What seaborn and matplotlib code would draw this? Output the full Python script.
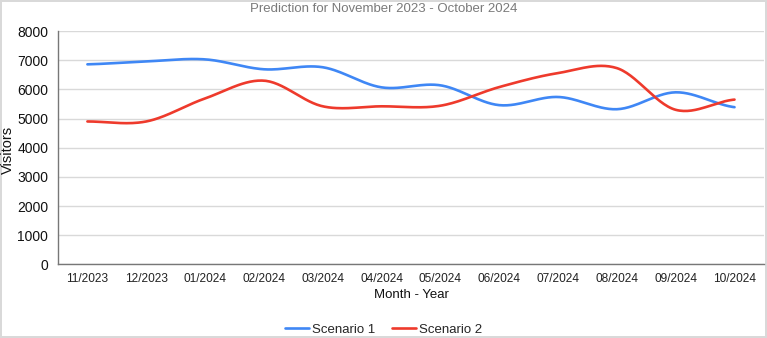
import numpy as np
import pandas as pd
import matplotlib
matplotlib.use("Agg")
import matplotlib.pyplot as plt
import seaborn as sns

months = ["11/2023", "12/2023", "01/2024", "02/2024", "03/2024", "04/2024",
          "05/2024", "06/2024", "07/2024", "08/2024", "09/2024", "10/2024"]
scenario_1 = [6860, 6960, 7030, 6690, 6760, 6070, 6140, 5460, 5740, 5320, 5900, 5390]
scenario_2 = [4900, 4900, 5690, 6300, 5420, 5420, 5440, 6080, 6560, 6730, 5300, 5650]

BLUE = "#3f87f5"
RED = "#ee3a2c"


def smooth(vals, steps=30):
    # catmull-rom through the points, like a spreadsheet "smoothed line"
    p = np.asarray(vals, dtype=float)
    n = len(p)
    xs, ys = [], []
    for i in range(n - 1):
        p0 = p[i - 1] if i > 0 else p[i]
        p1, p2 = p[i], p[i + 1]
        p3 = p[i + 2] if i + 2 < n else p[i + 1]
        t = np.linspace(0, 1, steps, endpoint=False)
        y = 0.5 * ((2 * p1) + (-p0 + p2) * t + (2 * p0 - 5 * p1 + 4 * p2 - p3) * t ** 2
                   + (-p0 + 3 * p1 - 3 * p2 + p3) * t ** 3)
        xs.extend(i + t)
        ys.extend(y)
    xs.append(n - 1)
    ys.append(p[-1])
    return xs, ys


def main():
    sns.set_style("white")
    plt.rcParams["font.family"] = ["Liberation Sans", "DejaVu Sans"]

    rows = []
    for name, vals in [("Scenario 1", scenario_1), ("Scenario 2", scenario_2)]:
        xs, ys = smooth(vals)
        rows.append(pd.DataFrame({"x": xs, "y": ys, "series": name}))
    df = pd.concat(rows, ignore_index=True)

    fig = plt.figure(figsize=(7.67, 3.38), dpi=100)
    fig.patch.set_edgecolor("#d9d9d9")
    fig.patch.set_linewidth(1.5)
    ax = fig.add_axes([0.0756, 0.218, 0.9204, 0.69])

    sns.lineplot(data=df, x="x", y="y", hue="series", palette=[BLUE, RED],
                 estimator=None, sort=False, linewidth=1.9, ax=ax, legend=False)

    ax.set_xlim(-0.5, len(months) - 0.5)
    ax.set_ylim(0, 8000)
    ax.set_yticks(range(0, 8001, 1000))
    ax.set_xticks(np.arange(-0.5, len(months), 1.0))
    ax.set_xticklabels([])
    ax.set_xticks(range(len(months)), minor=True)
    ax.set_xticklabels(months, minor=True, fontsize=8.6, color="#222222")
    ax.tick_params(axis="x", which="major", direction="inout", length=6, width=0.8, color="#777777")
    ax.tick_params(axis="x", which="minor", length=0, pad=6)
    ax.tick_params(axis="y", direction="out", length=4, width=0.8, color="#777777",
                   labelsize=10, labelcolor="#111111", pad=3)

    ax.grid(axis="y", color="#d9d9d9", linewidth=1)
    ax.set_axisbelow(True)
    for s in ["top", "right"]:
        ax.spines[s].set_visible(False)
    for s in ["left", "bottom"]:
        ax.spines[s].set_color("#777777")
        ax.spines[s].set_linewidth(1)

    ax.set_xlabel("Month - Year", fontsize=9.5, color="#111111", labelpad=3)
    ax.set_ylabel("Visitors", fontsize=10.5, color="#111111")
    ax.yaxis.set_label_coords(-0.061, 0.49)

    fig.text(0.5, 0.972, "Prediction for November 2023 - October 2024",
             ha="center", va="center", fontsize=9.5, color="#7a7a7a")

    handles = [plt.Line2D([], [], color=BLUE, lw=1.9), plt.Line2D([], [], color=RED, lw=1.9)]
    fig.legend(handles, ["Scenario 1", "Scenario 2"], loc="center", bbox_to_anchor=(0.5, 0.025),
               ncol=2, frameon=False, fontsize=9.5, handlelength=1.8, handletextpad=0.2,
               columnspacing=1.3)

    fig.savefig("out.png", dpi=100)


if __name__ == "__main__":
    main()
